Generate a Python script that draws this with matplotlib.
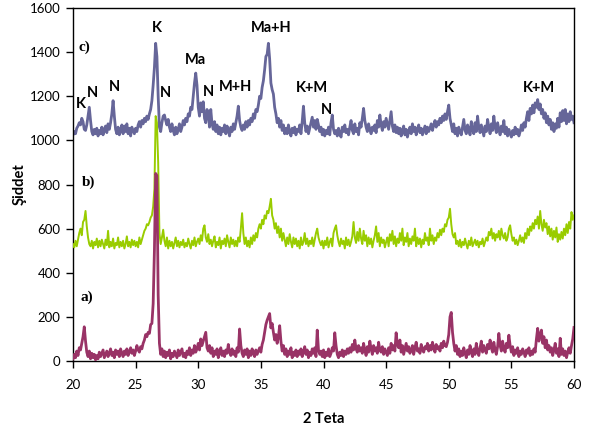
import numpy as np
import matplotlib
matplotlib.use("Agg")
import matplotlib.pyplot as plt

# 2-theta axis, 0.1 degree steps from 20 to 60
two_theta = np.round(np.arange(20.0, 60.01, 0.1), 1)

# c) pattern (top)
c_vals = [
    1025, 1040, 1030, 1055, 1065, 1080, 1070, 1100, 1085, 1050,
    1045, 1070, 1110, 1150, 1090, 1040, 1025, 1050, 1030, 1055,
    1020, 1045, 1030, 1060, 1025, 1050, 1065, 1035, 1075, 1050,
    1080, 1120, 1180, 1110, 1050, 1030, 1060, 1025, 1045, 1070,
    1030, 1065, 1040, 1075, 1030, 1055, 1020, 1060, 1045, 1030,
    1055, 1040, 1070, 1085, 1060, 1090, 1075, 1100, 1085, 1110,
    1095, 1120, 1140, 1180, 1250, 1330, 1440, 1380, 1200, 1060,
    1040, 1080, 1110, 1115, 1090, 1070, 1095, 1060, 1040, 1075,
    1045, 1025, 1060, 1030, 1050, 1075, 1040, 1060, 1090, 1070,
    1100, 1085, 1120, 1110, 1150, 1140, 1200, 1260, 1305, 1250,
    1150, 1110, 1170, 1130, 1175, 1100, 1080, 1140, 1120, 1060,
    1140, 1075, 1050, 1085, 1040, 1070, 1030, 1060, 1025, 1055,
    1040, 1070, 1030, 1065, 1045, 1020, 1060, 1040, 1075, 1050,
    1080, 1110, 1155, 1090, 1060, 1045, 1070, 1050, 1085, 1060,
    1090, 1070, 1100, 1085, 1120, 1100, 1140, 1130, 1160, 1200,
    1190, 1240, 1270, 1320, 1380, 1390, 1440, 1370, 1260, 1230,
    1210, 1150, 1120, 1080, 1100, 1060, 1090, 1045, 1070, 1030,
    1055, 1030, 1070, 1040, 1020, 1055, 1035, 1060, 1025, 1050,
    1040, 1070, 1030, 1085, 1155, 1080, 1040, 1065, 1030, 1055,
    1080, 1105, 1060, 1090, 1050, 1095, 1070, 1040, 1060, 1025,
    1050, 1020, 1045, 1030, 1060, 1025, 1080, 1115, 1050, 1030,
    1045, 1020, 1055, 1030, 1015, 1060, 1040, 1070, 1035, 1050,
    1025, 1060, 1090, 1045, 1030, 1075, 1040, 1055, 1025, 1080,
    1060, 1100, 1145, 1090, 1060, 1040, 1075, 1050, 1030, 1060,
    1045, 1070, 1035, 1090, 1060, 1115, 1070, 1045, 1085, 1060,
    1100, 1075, 1050, 1090, 1130, 1065, 1040, 1070, 1035, 1060,
    1030, 1055, 1020, 1045, 1065, 1025, 1050, 1015, 1040, 1060,
    1030, 1075, 1040, 1060, 1025, 1050, 1070, 1035, 1055, 1025,
    1045, 1065, 1030, 1060, 1040, 1055, 1075, 1045, 1070, 1090,
    1060, 1085, 1070, 1100, 1080, 1110, 1090, 1120, 1095, 1130,
    1160, 1100, 1070, 1040, 1075, 1030, 1055, 1020, 1060, 1040,
    1025, 1060, 1095, 1045, 1030, 1070, 1050, 1025, 1085, 1045,
    1030, 1080, 1040, 1110, 1060, 1035, 1070, 1045, 1020, 1065,
    1040, 1095, 1060, 1030, 1075, 1045, 1110, 1060, 1035, 1080,
    1050, 1025, 1065, 1040, 1090, 1030, 1060, 1020, 1050, 1030,
    1015, 1045, 1025, 1060, 1030, 1050, 1020, 1040, 1070, 1045,
    1080, 1060, 1100, 1130, 1090, 1145, 1120, 1160, 1125, 1170,
    1150, 1185, 1140, 1165, 1120, 1140, 1100, 1125, 1080, 1110,
    1070, 1095, 1050, 1080, 1040, 1075, 1055, 1100, 1060, 1125,
    1085, 1135, 1090, 1140, 1075, 1120, 1085, 1130, 1095, 1110,
    1080,
]

# b) pattern (middle)
b_vals = [
    530, 515, 545, 520, 550, 580, 600, 570, 630, 640,
    680, 610, 560, 530, 520, 545, 510, 540, 525, 555,
    515, 545, 520, 550, 530, 510, 550, 525, 590, 515,
    540, 520, 555, 510, 535, 525, 560, 515, 540, 520,
    545, 510, 530, 565, 520, 540, 515, 550, 525, 545,
    520, 540, 515, 560, 530, 550, 570, 590, 600, 620,
    615, 630, 650, 660, 700, 780, 1110, 1080, 900, 580,
    530, 560, 595, 545, 520, 560, 510, 545, 520, 540,
    510, 535, 560, 520, 545, 515, 540, 525, 550, 515,
    535, 520, 555, 530, 510, 545, 525, 560, 520, 540,
    555, 530, 570, 545, 600, 615, 560, 540, 575, 530,
    550, 520, 545, 565, 515, 540, 525, 560, 510, 545,
    530, 555, 520, 570, 540, 515, 560, 530, 550, 520,
    545, 520, 560, 540, 600, 670, 580, 530, 560, 520,
    545, 515, 560, 530, 570, 545, 580, 560, 600, 620,
    600, 640, 620, 660, 645, 680, 670, 700, 735, 660,
    640, 600, 625, 580, 610, 560, 600, 545, 580, 550,
    520, 560, 530, 575, 540, 515, 560, 530, 555, 520,
    545, 510, 560, 525, 540, 580, 530, 555, 520, 545,
    530, 560, 520, 550, 580, 600, 560, 540, 525, 545,
    510, 545, 525, 560, 515, 540, 555, 520, 580, 600,
    615, 570, 540, 520, 555, 530, 545, 510, 560, 525,
    550, 520, 540, 565, 630, 560, 535, 585, 545, 600,
    555, 530, 590, 545, 570, 520, 560, 530, 555, 515,
    545, 570, 610, 540, 580, 520, 560, 535, 550, 515,
    540, 560, 520, 575, 545, 590, 530, 565, 520, 555,
    535, 580, 545, 600, 525, 560, 540, 580, 520, 555,
    530, 565, 545, 600, 520, 560, 530, 555, 515, 550,
    530, 580, 545, 560, 525, 600, 545, 570, 530, 560,
    545, 580, 560, 595, 570, 600, 585, 620, 610, 640,
    650, 690, 620, 575, 560, 580, 530, 545, 520, 550,
    515, 540, 525, 555, 530, 510, 545, 525, 560, 520,
    535, 550, 525, 545, 515, 540, 530, 555, 520, 540,
    560, 545, 585, 570, 600, 555, 580, 545, 575, 560,
    590, 550, 600, 570, 555, 580, 545, 560, 600, 615,
    575, 545, 560, 530, 550, 525, 545, 570, 540, 560,
    535, 580, 555, 600, 570, 610, 590, 625, 600, 640,
    620, 655, 600, 680, 620, 590, 640, 605, 625, 575,
    610, 565, 600, 550, 590, 560, 605, 540, 575, 550,
    585, 555, 600, 570, 620, 580, 630, 600, 675, 640,
    660,
]

# a) pattern (bottom)
a_vals = [
    10, 30, 15, 45, 25, 60, 50, 80, 110, 155,
    90, 40, 20, 45, 10, 35, 15, 30, 5, 25,
    10, 40, 20, 35, 50, 15, 30, 45, 20, 35,
    55, 25, 40, 15, 50, 30, 45, 20, 55, 35,
    20, 45, 30, 55, 25, 40, 60, 35, 50, 25,
    45, 70, 50, 40, 65, 55, 80, 95, 120, 110,
    130, 125, 165, 170, 260, 500, 850, 840, 300, 80,
    30, 55, 20, 45, 15, 40, 25, 50, 10, 35,
    20, 45, 30, 15, 50, 25, 40, 55, 20, 35,
    15, 45, 30, 60, 25, 50, 35, 70, 40, 55,
    80, 50, 100, 70, 90, 110, 130, 60, 45, 70,
    35, 60, 20, 45, 30, 55, 15, 40, 60, 25,
    45, 20, 50, 35, 75, 40, 25, 55, 30, 45,
    20, 60, 40, 145, 70, 35, 20, 50, 30, 55,
    15, 45, 25, 55, 35, 20, 50, 30, 45, 60,
    40, 75, 95, 130, 165, 185, 200, 215, 150, 170,
    130, 95, 120, 80, 110, 160, 90, 45, 70, 30,
    55, 20, 45, 30, 60, 15, 40, 25, 50, 20,
    45, 30, 55, 20, 40, 65, 30, 50, 15, 40,
    25, 55, 35, 60, 20, 140, 50, 30, 45, 20,
    50, 15, 40, 25, 55, 20, 35, 60, 45, 128,
    70, 30, 15, 40, 25, 50, 20, 45, 30, 55,
    35, 60, 40, 75, 50, 95, 55, 40, 70, 45,
    60, 35, 80, 50, 25, 65, 40, 90, 55, 30,
    70, 45, 60, 35, 85, 50, 40, 65, 30, 55,
    40, 25, 60, 35, 80, 50, 70, 45, 128, 75,
    60, 95, 40, 70, 30, 55, 80, 45, 65, 35,
    50, 70, 30, 60, 85, 45, 55, 35, 75, 50,
    40, 65, 55, 80, 45, 70, 50, 85, 60, 40,
    75, 55, 65, 45, 80, 60, 90, 70, 65, 85,
    120, 200, 220, 130, 80, 45, 70, 30, 55, 20,
    45, 25, 60, 35, 15, 50, 30, 70, 40, 20,
    55, 30, 80, 45, 25, 60, 90, 40, 70, 50,
    35, 75, 55, 95, 60, 40, 85, 50, 30, 65,
    125, 70, 45, 90, 55, 40, 80, 60, 117, 70,
    40, 65, 25, 50, 35, 60, 20, 45, 30, 55,
    40, 20, 50, 35, 60, 25, 45, 30, 55, 40,
    100, 148, 90, 120, 140, 80, 110, 60, 95, 50,
    70, 40, 60, 25, 50, 80, 35, 55, 20, 103,
    30, 55, 25, 45, 15, 40, 60, 35, 70, 100,
    152,
]

# phase labels on pattern c)
peak_labels = ["K", "N", "N", "K", "N", "Ma", "N", "M+H", "Ma+H", "K+M", "N", "K", "K+M"]
peak_x = [20.6, 21.52, 23.3, 26.7, 27.35, 29.74, 30.78, 33.0, 35.86, 39.08, 40.25, 50.02, 57.2]
peak_y = [1165, 1215, 1242, 1509, 1215, 1364, 1220, 1242, 1509, 1238, 1138, 1238, 1238]

pattern_tags = ["a)", "b)", "c)"]
tag_x = [21.1, 21.25, 20.9]
tag_y = [291, 811, 1423]

fig = plt.figure(figsize=(5.91, 4.33), dpi=100)
ax = fig.add_axes([73 / 591, 1 - 361 / 433, 501 / 591, 353 / 433])

ax.plot(two_theta, c_vals, color="#666699", lw=2.0, zorder=2)
ax.plot(two_theta, b_vals, color="#99CC00", lw=1.4, zorder=3)
ax.plot(two_theta, a_vals, color="#993366", lw=2.0, zorder=4)

for lab, x, y in zip(peak_labels, peak_x, peak_y):
    ax.text(x, y, lab, ha="center", va="center", fontsize=10.5,
            fontweight="bold", family="Lato", color="black", zorder=5)

for lab, x, y in zip(pattern_tags, tag_x, tag_y):
    ax.text(x, y, lab, ha="center", va="center", fontsize=11,
            fontweight="bold", family="Liberation Serif", color="black", zorder=5)

ax.set_xlim(20, 60)
ax.set_ylim(0, 1600)
ax.set_xticks(range(20, 61, 5))
ax.set_yticks(range(0, 1601, 200))
ax.tick_params(direction="out", length=5, width=1, labelsize=9.5, colors="black")
for lbl in ax.get_xticklabels() + ax.get_yticklabels():
    lbl.set_family("Lato")
ax.tick_params(axis="x", pad=8)
ax.tick_params(axis="y", pad=4)
for sp in ax.spines.values():
    sp.set_linewidth(1)
    sp.set_color("black")

ax.set_xlabel("2 Teta", fontsize=10.5, fontweight="bold", family="Lato", labelpad=15)
ax.set_ylabel("Şiddet", fontsize=10.5, fontweight="bold", family="Lato", labelpad=2)

fig.savefig("out.png", dpi=100)
